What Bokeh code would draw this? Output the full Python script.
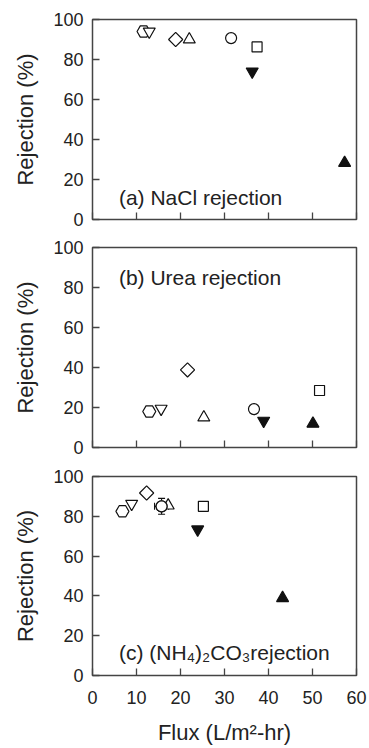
import math
from bokeh.plotting import figure
from bokeh.layouts import column
from bokeh.models import (Range1d, Label, Whisker, ColumnDataSource, FixedTicker, TeeHead,
                          CustomLabelingPolicy)
from bokeh.embed import file_html
from bokeh.resources import INLINE

# Flux (L/m2-hr) and rejection (%) per membrane, for panels (a) NaCl, (b) urea, (c) (NH4)2CO3
hex_flux = [11.6, 12.9, 6.8]
hex_rej = [94.0, 18.0, 82.5]
tri_dn_open_flux = [12.9, 15.6, 8.9]
tri_dn_open_rej = [94.0, 19.4, 86.3]
diamond_flux = [18.9, 21.6, 12.3]
diamond_rej = [90.0, 38.8, 91.7]
tri_up_open_flux = [22.0, 25.3, 17.2]
tri_up_open_rej = [90.0, 15.0, 85.4]
circle_flux = [31.5, 36.7, 15.7]
circle_rej = [90.7, 19.2, 85.0]
square_flux = [37.4, 51.6, 25.2]
square_rej = [86.3, 28.5, 85.0]
tri_dn_fill_flux = [36.3, 38.9, 23.9]
tri_dn_fill_rej = [74.0, 13.4, 73.4]
tri_up_fill_flux = [57.3, 50.1, 43.2]
tri_up_fill_rej = [28.3, 11.9, 38.9]

# error bars on the circle point of panel (c)
circle_c_xerr = 1.6
circle_c_yerr = 4.0

panel_titles = ["(a) NaCl rejection", "(b) Urea rejection", "(c) (NH\u2084)\u2082CO\u2083rejection"]
panel_title_xy = [(6, 11), (6, 85.2), (6, 11.6)]

x_title = "Flux (L/m\u00b2-hr)"
y_title = "Rejection (%)"

x_ticks = [0, 10, 20, 30, 40, 50, 60]
y_ticks = [0, 20, 40, 60, 80, 100]

FONT = "Liberation Sans"
INK = "#111111"
TEXT = "#222222"
FRAME = "#444444"

# marker, x, y, fill, size, angle
series = [
    ("hex", hex_flux, hex_rej, "white", 13, 0.0),
    ("inverted_triangle", tri_dn_open_flux, tri_dn_open_rej, "white", 12, 0.0),
    ("square", diamond_flux, diamond_rej, "white", 10, math.pi / 4),
    ("triangle", tri_up_open_flux, tri_up_open_rej, "white", 12, 0.0),
    ("circle", circle_flux, circle_rej, "white", 11, 0.0),
    ("square", square_flux, square_rej, "white", 10, 0.0),
    ("inverted_triangle", tri_dn_fill_flux, tri_dn_fill_rej, INK, 12, 0.0),
    ("triangle", tri_up_fill_flux, tri_up_fill_rej, INK, 12, 0.0),
]

layout_spec = [
    # height, border top, border bottom
    (233, 19, 14),
    (227, 14, 13),
    (288, 16, 73),
]

# keep tick marks but show no tick labels on the upper panels
no_labels = CustomLabelingPolicy(code="""
    const all = [...indices]
    for (const i of all) indices.unset(i)
    return indices
""")

figs = []
for k, (h, bt, bb) in enumerate(layout_spec):
    last = k == 2
    p = figure(width=369, height=h, output_backend="svg", toolbar_location=None,
               x_range=Range1d(0, 60), y_range=Range1d(0, 100),
               min_border_left=92, min_border_right=13,
               min_border_top=bt, min_border_bottom=bb)
    p.grid.visible = False
    p.outline_line_color = FRAME
    p.outline_line_width = 1.5
    p.background_fill_color = "white"
    p.border_fill_color = "white"

    for ax in (p.xaxis[0], p.yaxis[0]):
        ax.axis_line_color = None
        ax.major_tick_in = 7
        ax.major_tick_out = 0
        ax.minor_tick_line_color = None
        ax.major_tick_line_color = FRAME
        ax.major_tick_line_width = 1.3
        ax.major_label_text_font = FONT
        ax.major_label_text_font_size = "18px"
        ax.major_label_text_color = TEXT
        ax.axis_label_text_font = FONT
        ax.axis_label_text_font_size = "22px"
        ax.axis_label_text_font_style = "normal"
        ax.axis_label_text_color = TEXT

    p.xaxis.ticker = FixedTicker(ticks=x_ticks)
    p.yaxis.ticker = FixedTicker(ticks=y_ticks)
    p.yaxis.axis_label = y_title
    p.yaxis.major_label_standoff = 9
    p.yaxis.axis_label_standoff = 12

    if last:
        p.xaxis.axis_label = x_title
        p.xaxis.major_label_standoff = 15
        p.xaxis.axis_label_standoff = 13
    else:
        p.xaxis.major_label_policy = no_labels
        p.xaxis.major_label_text_font_size = "1px"
        p.xaxis.major_label_standoff = 0

    for marker, xs, ys, fill, size, ang in series:
        p.scatter(x=[xs[k]], y=[ys[k]], marker=marker, size=size, angle=ang,
                  fill_color=fill, line_color=INK, line_width=1.2)

    if last:
        src = ColumnDataSource(dict(
            x=[circle_flux[2]], y=[circle_rej[2]],
            ylo=[circle_rej[2] - circle_c_yerr], yhi=[circle_rej[2] + circle_c_yerr],
            xlo=[circle_flux[2] - circle_c_xerr], xhi=[circle_flux[2] + circle_c_xerr]))
        for base, lo, hi, dim in (("x", "ylo", "yhi", "height"), ("y", "xlo", "xhi", "width")):
            p.add_layout(Whisker(source=src, base=base, lower=lo, upper=hi, dimension=dim,
                                 line_color=INK, line_width=1.1,
                                 lower_head=TeeHead(size=7, line_color=INK, line_width=1.1),
                                 upper_head=TeeHead(size=7, line_color=INK, line_width=1.1)))
        # redraw the circle over the bars
        p.scatter(x=[circle_flux[2]], y=[circle_rej[2]], marker="circle", size=11,
                  fill_color="white", line_color=INK, line_width=1.2)

    tx, ty = panel_title_xy[k]
    p.add_layout(Label(x=tx, y=ty, text=panel_titles[k], text_font=FONT,
                       text_font_size="21px", text_color=TEXT,
                       text_baseline="alphabetic", text_align="left"))
    figs.append(p)

page = column(*figs, spacing=0)
open("out.html", "w").write(file_html(page, INLINE))
